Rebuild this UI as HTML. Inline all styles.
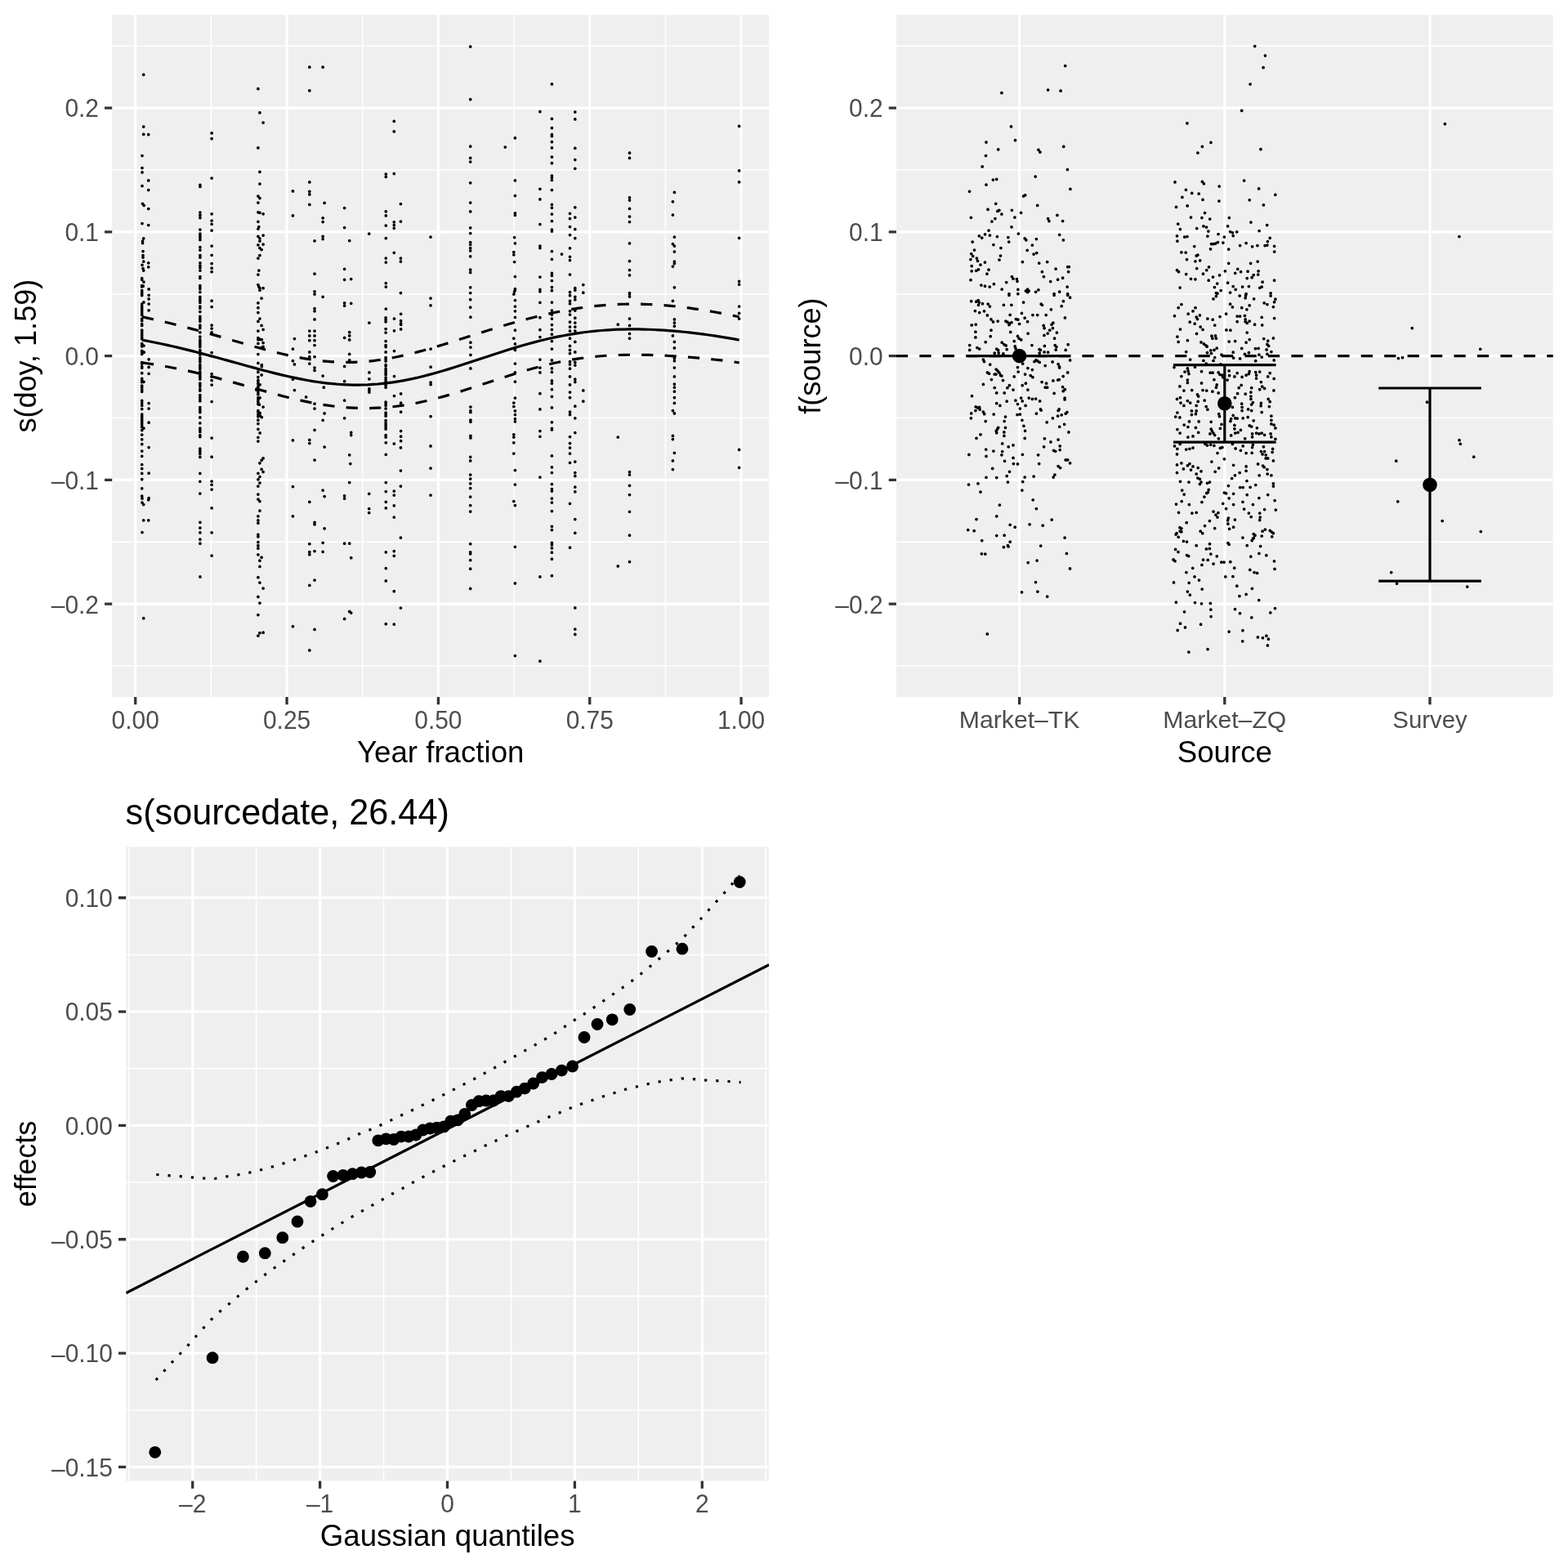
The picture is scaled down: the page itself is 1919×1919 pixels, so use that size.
<!DOCTYPE html>
<html lang="en"><head><meta charset="utf-8"><title>GAM partial effects</title>
<style>
html,body{margin:0;padding:0;background:#fff}
body{width:1919px;height:1919px;overflow:hidden}
svg{display:block;font-family:"Liberation Sans", Arial, Helvetica, sans-serif}
</style></head><body>
<svg width="1919" height="1919" viewBox="0 0 1919 1919">
<rect width="1919" height="1919" fill="#fff"/>
<clipPath id="c1"><rect x="137.2" y="18.2" width="804" height="834.9"/></clipPath>
<rect x="137.2" y="18.2" width="804" height="834.9" fill="#EFEFEF"/>
<path d="M137.2 56.2H941.2M137.2 207.96H941.2M137.2 359.72H941.2M137.2 511.48H941.2M137.2 663.24H941.2M137.2 815H941.2M258.38 18.2V853.1M443.72 18.2V853.1M629.08 18.2V853.1M814.42 18.2V853.1" stroke="#fff" stroke-width="1.55" fill="none"/>
<path d="M137.2 132.08H941.2M137.2 283.84H941.2M137.2 435.6H941.2M137.2 587.36H941.2M137.2 739.12H941.2M165.7 18.2V853.1M351.05 18.2V853.1M536.4 18.2V853.1M721.75 18.2V853.1M907.1 18.2V853.1" stroke="#fff" stroke-width="3.1" fill="none"/>
<path d="M175.69 91.4h.02M175.69 155.1h.02M175.69 164.4h.02M181.69 164.7h.02M173.99 190.6h.02M173.99 205.6h.02M173.99 210.9h.02M181.69 220.9h.02M173.99 227.6h.02M181.69 232.6h.02M174.49 249.3h.02M176.19 251.4h.02M181.69 255.6h.02M173.99 273.5h.02M181.69 275.5h.02M175.69 291.8h.02M174.49 295.1h.02M174.49 297.6h.02M174.99 307.6h.02M174.99 312.6h.02M174.99 315.1h.02M175.69 320.1h.02M181.69 321.8h.02M173.99 324.3h.02M181.69 326.8h.02M174.99 328.5h.02M175.69 331h.02M244.89 226.4h.02M244.89 228.4h.02M244.89 260.1h.02M244.89 263.4h.02M244.89 266.5h.02M244.89 281h.02M244.89 286h.02M244.89 288.5h.02M244.89 291h.02M244.89 293.5h.02M244.89 302.6h.02M244.89 306h.02M244.89 312.6h.02M244.89 315.1h.02M244.89 321.8h.02M244.89 325.1h.02M244.89 327.6h.02M244.89 331h.02M244.89 338.5h.02M259.09 162.9h.02M259.09 169.7h.02M259.09 218.1h.02M259.09 261.8h.02M259.09 270.1h.02M259.09 274.3h.02M259.09 282.1h.02M259.09 301h.02M259.09 312.3h.02M259.09 322.6h.02M259.09 328.2h.02M259.09 332.7h.02M315.89 108.7h.02M317.89 137.9h.02M322.09 150.1h.02M315.89 180.9h.02M317.89 210.4h.02M317.89 225.1h.02M315.89 240.1h.02M317.89 242.6h.02M315.89 248.1h.02M315.89 259.8h.02M317.89 260.4h.02M322.09 261.8h.02M315.89 271.3h.02M316.79 277.6h.02M315.89 280.1h.02M322.09 288h.02M315.89 289.3h.02M317.89 291.8h.02M317.89 295.1h.02M322.09 299h.02M315.89 299.8h.02M317.89 303.5h.02M320.09 305.6h.02M317.89 312.6h.02M315.89 316h.02M316.79 331h.02M315.89 336h.02M315.89 348.5h.02M316.79 351h.02M322.09 352.7h.02M317.89 355.2h.02M358.39 233.9h.02M358.39 263.9h.02M378.79 82.2h.02M378.79 110.9h.02M378.79 222.9h.02M378.79 234.3h.02M378.79 237.9h.02M378.79 250.4h.02M384.99 294.8h.02M384.99 335.2h.02M384.99 356.8h.02M395.09 82.2h.02M397.09 248.4h.02M395.09 266.8h.02M395.09 271.5h.02M395.09 289.3h.02M395.09 292.6h.02M421.59 254.6h.02M421.59 278.5h.02M421.59 329.3h.02M421.59 342.3h.02M427.69 294.6h.02M429.69 341.5h.02M451.69 286h.02M173.99 610.1h.02M173.99 615.1h.02M175.69 617.6h.02M175.69 636.8h.02M173.99 651.5h.02M181.69 611.8h.02M181.69 636.8h.02M244.89 639.3h.02M244.89 646h.02M244.89 651.8h.02M244.89 660.2h.02M244.89 665.2h.02M259.09 621.8h.02M259.09 651.8h.02M317.89 352.5h.02M320.09 365h.02M315.89 370.8h.02M315.89 376.7h.02M315.89 382.5h.02M317.89 390h.02M315.89 393.4h.02M320.09 398.4h.02M315.89 540.1h.02M322.09 560.9h.02M320.09 563.4h.02M317.89 566.8h.02M320.09 574.3h.02M322.09 577.6h.02M315.89 579.3h.02M317.89 583.5h.02M315.89 586.8h.02M317.89 591h.02M315.89 595.1h.02M315.89 605.1h.02M315.89 611h.02M317.89 613.5h.02M317.89 625.1h.02M315.89 631.8h.02M315.89 636.8h.02M315.89 640.2h.02M315.89 654.3h.02M315.89 656.8h.02M315.89 663.5h.02M315.89 667.7h.02M360.39 414.5h.02M358.39 427.2h.02M358.39 441.7h.02M360.39 445.9h.02M358.39 464.2h.02M360.39 477.6h.02M358.39 538.9h.02M358.39 595.6h.02M358.39 631.8h.02M378.79 405h.02M378.79 410.9h.02M378.79 416.7h.02M378.79 430.9h.02M378.79 436.7h.02M378.79 445h.02M374.59 485.9h.02M378.79 538.4h.02M378.79 542.6h.02M378.79 614.3h.02M378.79 665.7h.02M384.99 360h.02M384.99 377.5h.02M384.99 380.8h.02M384.99 390.9h.02M384.99 405h.02M384.99 410.9h.02M384.99 416.7h.02M384.99 422.5h.02M384.99 436.7h.02M384.99 450.1h.02M384.99 453.4h.02M384.99 494.2h.02M384.99 500.1h.02M384.99 526.3h.02M384.99 563.1h.02M384.99 639.3h.02M384.99 641.8h.02M395.09 363.3h.02M395.09 460.1h.02M396.29 474.2h.02M397.09 505.9h.02M395.09 514.3h.02M397.09 547.1h.02M395.09 600.1h.02M397.09 607.6h.02M397.09 646.8h.02M395.09 664.3h.02M421.59 370.8h.02M421.59 374.2h.02M421.59 413.4h.02M421.59 448.4h.02M421.59 466.7h.02M421.59 490.1h.02M421.59 511.8h.02M421.59 606.8h.02M421.59 610.1h.02M421.59 665.2h.02M429.69 371.3h.02M427.69 406.7h.02M427.69 410.9h.02M427.69 415.9h.02M427.69 433.4h.02M427.69 440.9h.02M429.69 529.3h.02M429.69 532.6h.02M427.69 556.8h.02M428.79 567.6h.02M427.69 590.6h.02M427.69 665.2h.02M451.69 604.3h.02M451.69 622.6h.02M451.69 627.6h.02M259.09 680h.02M244.89 705.9h.02M175.69 756.7h.02M315.89 671.2h.02M315.89 678.8h.02M320.09 682.2h.02M317.89 686.2h.02M317.89 693.4h.02M315.89 706.7h.02M317.89 713h.02M322.09 720h.02M315.89 730.4h.02M317.89 738h.02M315.89 752.5h.02M322.09 774.2h.02M317.89 774.7h.02M315.89 778.1h.02M378.79 675.5h.02M378.79 678.7h.02M384.99 674.5h.02M395.09 675.3h.02M429.69 682.7h.02M384.99 710h.02M378.79 716.4h.02M427.69 748.4h.02M429.69 750h.02M421.59 757.4h.02M358.39 766.7h.02M384.99 770.4h.02M378.79 795.9h.02M472.29 213.1h.02M472.29 216.4h.02M472.29 258.8h.02M472.29 263.9h.02M472.29 276h.02M472.29 291.5h.02M472.29 316h.02M472.29 321h.02M472.29 346.5h.02M472.29 351h.02M482.29 148.4h.02M482.29 160.9h.02M482.29 212.6h.02M482.29 271.8h.02M482.29 275.5h.02M482.29 279.3h.02M482.29 309.3h.02M490.39 249.6h.02M490.39 271h.02M490.39 316h.02M490.39 320.1h.02M490.39 358.5h.02M526.99 290.1h.02M575.69 57h.02M575.69 121.7h.02M575.69 179.2h.02M575.69 193.4h.02M575.69 198.1h.02M575.69 223.8h.02M575.69 248.1h.02M575.69 258.9h.02M575.69 278.8h.02M575.69 285.5h.02M575.69 296.5h.02M575.69 299.3h.02M575.69 303.5h.02M575.69 306.8h.02M575.69 313.8h.02M575.69 330.2h.02M575.69 333.5h.02M575.69 351.8h.02M575.69 358.5h.02M618.29 180.1h.02M630.39 168.9h.02M630.39 220.9h.02M630.39 239.6h.02M630.39 260.9h.02M630.39 263.4h.02M629.59 290.5h.02M630.39 297.8h.02M628.79 308.5h.02M628.79 311.8h.02M629.59 320.5h.02M630.39 338.5h.02M630.39 353.5h.02M629.59 356.8h.02M660.89 136.7h.02M660.89 231.3h.02M660.89 243.9h.02M660.89 274.6h.02M660.89 301h.02M660.89 303.5h.02M660.89 339h.02M660.89 354.3h.02M660.89 356.8h.02M675.39 102.9h.02M675.39 145.4h.02M675.39 156.7h.02M675.39 164.7h.02M675.39 166.7h.02M675.39 173.7h.02M675.39 180.9h.02M675.39 192.2h.02M675.39 199.7h.02M675.39 215.1h.02M675.39 217.6h.02M675.39 220.4h.02M675.39 232.6h.02M675.39 250.4h.02M675.39 254.3h.02M675.39 262.1h.02M675.39 270.6h.02M675.39 281h.02M675.39 283.1h.02M675.39 307.6h.02M675.39 317.3h.02M675.39 334.3h.02M675.39 337.3h.02M675.39 343.5h.02M675.39 351.5h.02M675.39 355.7h.02M687.49 311h.02M697.49 261.3h.02M697.49 267.6h.02M697.49 277.6h.02M697.49 287.5h.02M697.49 303.8h.02M697.49 314.3h.02M697.49 318.5h.02M697.49 336h.02M697.49 357.7h.02M703.79 137.1h.02M703.79 145.9h.02M703.79 181.4h.02M703.79 195.6h.02M703.79 206.3h.02M703.79 253.9h.02M703.79 266h.02M703.79 280.6h.02M703.79 291.5h.02M703.79 352.7h.02M703.79 355.2h.02M713.79 348.5h.02M713.79 358.2h.02M770.49 187.2h.02M770.49 193.4h.02M770.49 241.8h.02M770.49 245.1h.02M770.49 255.4h.02M770.49 265.1h.02M770.49 271.5h.02M770.49 297.8h.02M770.49 319.6h.02M770.49 330.5h.02M770.49 336.8h.02M770.49 358.5h.02M472.29 378h.02M472.29 541.8h.02M472.29 556.3h.02M472.29 590.5h.02M472.29 601.5h.02M472.29 614.3h.02M472.29 621.8h.02M482.29 543.1h.02M482.29 601h.02M482.29 606h.02M482.29 618.8h.02M482.29 633h.02M490.39 547.9h.02M490.39 576h.02M490.39 595.1h.02M490.39 658h.02M526.99 365h.02M526.99 373.8h.02M526.99 545.9h.02M526.99 573.1h.02M526.99 606h.02M575.69 366.7h.02M575.69 376.2h.02M575.69 559.3h.02M575.69 563.9h.02M575.69 581h.02M575.69 586h.02M575.69 591.8h.02M575.69 597.6h.02M575.69 608.1h.02M575.69 618.5h.02M575.69 626h.02M575.69 665.7h.02M630.39 355h.02M628.79 360h.02M630.39 367.5h.02M630.39 375h.02M630.39 380.8h.02M630.39 388.4h.02M630.39 404.2h.02M628.79 414.2h.02M630.39 420.9h.02M630.39 428.4h.02M630.39 445h.02M630.39 455.9h.02M630.39 467.2h.02M630.39 487.1h.02M628.79 493.1h.02M628.79 497.6h.02M630.39 502.9h.02M630.39 507.6h.02M630.39 512.6h.02M630.39 515.9h.02M628.79 531.8h.02M628.79 535.1h.02M628.79 541.8h.02M628.79 555.1h.02M630.39 575.5h.02M630.39 593.1h.02M628.79 613.5h.02M630.39 618.5h.02M630.39 669.3h.02M660.89 370.3h.02M660.89 388.7h.02M660.89 403.7h.02M660.89 412.5h.02M660.89 440h.02M660.89 450.1h.02M660.89 455.9h.02M660.89 481.7h.02M660.89 500.9h.02M660.89 527.6h.02M660.89 534.3h.02M660.89 584h.02M675.39 370h.02M675.39 380h.02M675.39 385h.02M675.39 390h.02M675.39 397.5h.02M675.39 403.4h.02M675.39 409.2h.02M675.39 417.5h.02M675.39 427h.02M675.39 440.9h.02M675.39 450.9h.02M675.39 455.4h.02M675.39 465.9h.02M675.39 469.2h.02M675.39 476.7h.02M675.39 485.4h.02M675.39 498.9h.02M675.39 516.8h.02M675.39 524.3h.02M675.39 525.9h.02M675.39 557.9h.02M675.39 571.8h.02M675.39 578.5h.02M675.39 592.6h.02M675.39 598.5h.02M675.39 601h.02M675.39 610.1h.02M675.39 615.1h.02M675.39 625.6h.02M675.39 644.3h.02M675.39 648.5h.02M675.39 664.3h.02M675.39 666.8h.02M697.49 361.7h.02M697.49 368.3h.02M697.49 371.7h.02M697.49 380.8h.02M697.49 385h.02M697.49 394.2h.02M697.49 400h.02M697.49 405h.02M697.49 414.2h.02M697.49 423.4h.02M697.49 428.4h.02M697.49 432.5h.02M697.49 442.5h.02M697.49 445.9h.02M697.49 451.2h.02M697.49 460.9h.02M697.49 470.9h.02M697.49 480.1h.02M697.49 486.7h.02M697.49 504.2h.02M697.49 507.6h.02M697.49 534.6h.02M697.49 542.6h.02M697.49 548.1h.02M697.49 555.1h.02M697.49 566.3h.02M697.49 616.3h.02M703.79 363.3h.02M703.79 366.7h.02M703.79 380h.02M703.79 389.2h.02M703.79 395h.02M703.79 400h.02M703.79 405h.02M703.79 418.4h.02M703.79 430.9h.02M703.79 443.4h.02M703.79 447.1h.02M703.79 464.2h.02M703.79 467.6h.02M703.79 497.2h.02M703.79 511.8h.02M703.79 529.6h.02M703.79 565.1h.02M703.79 578.5h.02M703.79 582.6h.02M703.79 596h.02M703.79 601.8h.02M703.79 635.5h.02M703.79 652.3h.02M713.79 477.9h.02M713.79 491.2h.02M756.29 397.2h.02M756.29 535.1h.02M770.49 360h.02M770.49 363h.02M770.49 390h.02M770.49 398.4h.02M770.49 408.4h.02M770.49 414.2h.02M770.49 577.6h.02M770.49 581h.02M770.49 594.3h.02M770.49 605.6h.02M770.49 626.3h.02M770.49 655.2h.02M472.29 675.8h.02M482.29 674.5h.02M482.29 680.3h.02M472.29 695.5h.02M472.29 710.9h.02M482.29 723.7h.02M490.39 744h.02M472.29 763.7h.02M482.29 764.1h.02M575.69 675.8h.02M575.69 677.8h.02M575.69 685.5h.02M575.69 696.2h.02M575.69 720.4h.02M630.39 713.9h.02M630.39 802.6h.02M660.89 705.9h.02M660.89 809.2h.02M675.39 670.8h.02M675.39 676.2h.02M675.39 684.2h.02M675.39 704.7h.02M697.49 670.2h.02M703.79 743.9h.02M703.79 770.1h.02M703.79 776.4h.02M756.29 692.9h.02M770.49 687.5h.02M825.39 235.4h.02M823.39 246.8h.02M823.39 263.1h.02M825.39 290.1h.02M823.39 298.5h.02M825.39 301h.02M825.39 308.1h.02M825.39 320.1h.02M825.39 322.6h.02M823.39 326h.02M825.39 351.8h.02M904.59 154.4h.02M904.59 208.9h.02M904.59 222.8h.02M904.59 291.3h.02M904.59 344.3h.02M904.59 348.2h.02M823.39 368.3h.02M825.39 390.9h.02M825.39 395h.02M825.39 399.2h.02M823.39 410.9h.02M825.39 418.4h.02M825.39 425.9h.02M825.39 438.4h.02M825.39 441.7h.02M825.39 450.1h.02M825.39 460.9h.02M825.39 470.1h.02M825.39 474.2h.02M825.39 479.2h.02M825.39 486.7h.02M825.39 493.4h.02M823.39 502.6h.02M825.39 505.9h.02M823.39 533.4h.02M823.39 537.6h.02M825.39 554.3h.02M823.39 563.9h.02M823.39 574.6h.02M904.59 375h.02M904.59 383.4h.02M904.59 390h.02M904.59 550.4h.02M904.59 572.3h.02M173.69 340.7h.02M173.69 342.2h.02M173.69 349.5h.02M173.69 350.9h.02M173.69 355.7h.02M173.69 357.9h.02M173.69 359.7h.02M173.69 361.5h.02M173.69 372.1h.02M173.69 375h.02M173.69 377.2h.02M173.69 379.4h.02M173.69 381.6h.02M173.69 383.8h.02M173.69 385.6h.02M173.69 390.3h.02M173.69 392.5h.02M173.69 396.5h.02M173.69 398.4h.02M173.69 404.2h.02M173.69 406h.02M173.69 408.6h.02M173.69 410.4h.02M173.69 413h.02M173.69 414.8h.02M173.69 420.6h.02M173.69 422.4h.02M173.69 423.9h.02M173.69 429.4h.02M173.69 431.2h.02M173.69 433.4h.02M173.69 443.6h.02M173.69 445.1h.02M173.69 448.7h.02M173.69 450.2h.02M173.69 456.7h.02M173.69 463.3h.02M173.69 465.5h.02M173.69 467.7h.02M173.69 472h.02M173.69 474.2h.02M173.69 477.2h.02M173.69 479.3h.02M175.89 345.1h.02M175.19 350.2h.02M175.89 369.9h.02M175.89 423.2h.02M176.29 431.2h.02M175.89 467.3h.02M182.09 353.9h.02M182.09 361.3h.02M182.09 365.9h.02M182.09 372.1h.02M182.09 379.8h.02M182.09 439.8h.02M182.09 449.4h.02M182.09 457.3h.02M244.79 340.4h.02M244.79 349.5h.02M244.79 351.7h.02M244.79 353.5h.02M244.79 357.5h.02M244.79 363.3h.02M244.79 365.2h.02M244.79 367h.02M244.79 368.8h.02M244.79 370.3h.02M244.79 375h.02M244.79 377.2h.02M244.79 381.6h.02M244.79 387.4h.02M244.79 389.6h.02M244.79 391.4h.02M244.79 393.3h.02M244.79 398h.02M244.79 399.8h.02M244.79 401.6h.02M244.79 406.8h.02M244.79 412.2h.02M244.79 415.9h.02M244.79 417.7h.02M244.79 419.5h.02M244.79 421.3h.02M244.79 423.2h.02M244.79 424.6h.02M244.79 428.6h.02M244.79 430.5h.02M244.79 432.3h.02M244.79 434.1h.02M244.79 437.8h.02M244.79 439.6h.02M244.79 441.4h.02M244.79 442.9h.02M244.79 446.5h.02M244.79 448.3h.02M244.79 450.2h.02M244.79 452h.02M244.79 455.3h.02M244.79 456.7h.02M244.79 458.6h.02M244.79 460.4h.02M244.79 462.2h.02M244.79 464h.02M244.79 469.1h.02M244.79 471h.02M244.79 472.8h.02M244.79 476.4h.02M244.79 478.2h.02M259.09 368.2h.02M259.09 375.5h.02M259.09 398h.02M259.09 402h.02M259.09 406.8h.02M259.09 431.6h.02M259.09 457.5h.02M259.09 461.1h.02M259.09 465.5h.02M259.09 471h.02M173.69 490.4h.02M173.69 493.3h.02M173.69 496.3h.02M173.69 500.6h.02M173.69 507.2h.02M173.69 509.4h.02M173.69 511.6h.02M173.69 513.8h.02M173.69 516h.02M173.69 518.2h.02M173.69 520.3h.02M173.69 522.5h.02M173.69 526.5h.02M173.69 532h.02M173.69 537.8h.02M173.69 543.7h.02M173.69 552.1h.02M173.69 558.3h.02M173.69 568.5h.02M173.69 573.6h.02M173.69 579.4h.02M173.69 586.7h.02M173.69 597.8h.02M173.69 607.2h.02M175.89 524.1h.02M182.09 493.6h.02M182.09 500.1h.02M182.09 517.2h.02M182.09 547.5h.02M182.09 579.2h.02M182.09 609.7h.02M244.79 483.5h.02M244.79 485.7h.02M244.79 488.2h.02M244.79 490.8h.02M244.79 498.5h.02M244.79 500.6h.02M244.79 502.8h.02M244.79 504.7h.02M244.79 510.9h.02M244.79 517.8h.02M244.79 524h.02M244.79 526.2h.02M244.79 528.4h.02M244.79 532.7h.02M244.79 534.6h.02M244.79 549.2h.02M244.79 551.3h.02M244.79 553.5h.02M244.79 555.4h.02M244.79 559.4h.02M244.79 579.4h.02M244.79 589.3h.02M244.79 604h.02M259.09 491.5h.02M259.09 536h.02M259.09 559.2h.02M259.09 589.1h.02M259.09 593.3h.02M259.09 599.1h.02M322.09 403.3h.02M315.89 405h.02M315.89 413.5h.02M318.09 415.3h.02M320.29 415.7h.02M315.89 415.7h.02M315.89 420.4h.02M322.09 419.6h.02M322.09 424.4h.02M319.89 425.5h.02M315.89 433.6h.02M315.89 444.4h.02M320.29 446.7h.02M320.29 448.5h.02M315.89 451.8h.02M315.89 455.4h.02M320.09 458.9h.02M315.89 461.6h.02M315.89 465.3h.02M315.89 467.5h.02M315.89 469.7h.02M318.09 470.8h.02M315.89 473h.02M315.89 475.1h.02M313.69 477h.02M315.89 478.4h.02M315.89 480.6h.02M315.89 482.8h.02M315.89 486.8h.02M318.09 486.8h.02M315.89 489.4h.02M315.89 491.9h.02M315.89 494.5h.02M317.39 495.2h.02M322.09 498.1h.02M315.89 502.5h.02M315.89 504.3h.02M318.09 505.4h.02M315.89 507.2h.02M318.09 508.7h.02M315.89 509.8h.02M320.29 510.7h.02M315.89 514.2h.02M315.89 518.6h.02M315.89 525.3h.02M318.09 529.9h.02M315.89 535.3h.02M472.09 388.8h.02M472.09 391.3h.02M472.09 393.8h.02M472.09 402.5h.02M472.09 407.1h.02M472.09 417.5h.02M472.09 422.5h.02M472.09 424.6h.02M472.09 430.9h.02M472.09 437.5h.02M472.09 439.6h.02M472.09 442.1h.02M472.09 446.7h.02M472.09 448h.02M472.09 451.7h.02M472.09 454.2h.02M472.09 456.7h.02M472.09 458.4h.02M472.09 462.1h.02M472.09 464.2h.02M472.09 466.7h.02M472.09 469.2h.02M472.09 471.7h.02M472.09 474.2h.02M472.09 492.1h.02M472.09 494.2h.02M472.09 496.3h.02M472.09 500.1h.02M472.09 505.1h.02M472.09 507.1h.02M472.09 509.2h.02M472.09 514.7h.02M472.09 517.6h.02M472.09 520.1h.02M472.09 522.6h.02M472.09 525.1h.02M472.09 532.6h.02M472.09 535.1h.02M451.89 395h.02M451.89 455.9h.02M451.89 463.8h.02M451.89 475.9h.02M451.89 478h.02M451.89 480.1h.02M482.49 390h.02M482.49 404.8h.02M482.49 429.6h.02M482.49 460.5h.02M482.49 484.5h.02M490.59 384.3h.02M490.59 392.5h.02M490.59 395.4h.02M490.59 397.3h.02M490.59 402.9h.02M490.59 481.9h.02M490.59 493.2h.02M490.59 504.2h.02M490.59 527.6h.02M490.59 534.2h.02M490.59 539.7h.02M527.09 427.1h.02M527.09 449.2h.02M527.09 468h.02M527.09 470.5h.02M527.09 509.7h.02M575.89 388.2h.02M575.89 419.2h.02M575.89 425h.02M575.89 434.4h.02M575.89 450.9h.02M575.89 498h.02M575.89 502.6h.02M575.89 504.6h.02M575.89 514.2h.02M575.89 516.3h.02M575.89 533.4h.02M575.89 535.9h.02" stroke="#000" stroke-width="3.75" stroke-linecap="round" fill="none" clip-path="url(#c1)"/>
<g fill="none" stroke="#000" stroke-width="3.2" stroke-linejoin="round">
<path d="M174 416.07L180.14 417.25L186.28 418.46L192.42 419.72L198.56 421.03L204.7 422.37L210.84 423.75L216.98 425.18L223.12 426.64L229.26 428.14L235.39 429.67L241.53 431.24L247.67 432.83L253.81 434.45L259.95 436.1L266.09 437.76L272.23 439.45L278.37 441.14L284.51 442.84L290.65 444.55L296.79 446.25L302.93 447.94L309.07 449.63L315.21 451.29L321.35 452.93L327.49 454.54L333.63 456.11L339.77 457.63L345.91 459.11L352.05 460.53L358.18 461.89L364.32 463.17L370.46 464.38L376.6 465.51L382.74 466.55L388.88 467.49L395.02 468.34L401.16 469.08L407.3 469.71L413.44 470.23L419.58 470.63L425.72 470.91L431.86 471.08L438 471.11L444.14 471.02L450.28 470.81L456.42 470.46L462.56 470L468.7 469.4L474.84 468.68L480.97 467.85L487.11 466.89L493.25 465.82L499.39 464.64L505.53 463.35L511.67 461.97L517.81 460.49L523.95 458.92L530.09 457.27L536.23 455.54L542.37 453.75L548.51 451.9L554.65 450L560.79 448.06L566.93 446.07L573.07 444.07L579.21 442.04L585.35 440.01L591.49 437.97L597.63 435.94L603.76 433.92L609.9 431.92L616.04 429.95L622.18 428.02L628.32 426.13L634.46 424.29L640.6 422.5L646.74 420.77L652.88 419.11L659.02 417.51L665.16 415.99L671.3 414.55L677.44 413.18L683.58 411.9L689.72 410.7L695.86 409.59L702 408.56L708.14 407.62L714.28 406.77L720.42 406.01L726.55 405.33L732.69 404.74L738.83 404.23L744.97 403.81L751.11 403.47L757.25 403.21L763.39 403.04L769.53 402.93L775.67 402.9L781.81 402.95L787.95 403.06L794.09 403.24L800.23 403.49L806.37 403.8L812.51 404.17L818.65 404.6L824.79 405.09L830.93 405.63L837.07 406.23L843.21 406.88L849.34 407.58L855.48 408.33L861.62 409.14L867.76 409.99L873.9 410.88L880.04 411.83L886.18 412.82L892.32 413.86L898.46 414.94L904.6 416.07"/>
<path d="M174 387.79L180.14 389.11L186.28 390.48L192.42 391.88L198.56 393.31L204.7 394.78L210.84 396.29L216.98 397.82L223.12 399.39L229.26 400.99L235.39 402.63L241.53 404.28L247.67 405.97L253.81 407.68L259.95 409.41L266.09 411.16L272.23 412.92L278.37 414.69L284.51 416.47L290.65 418.25L296.79 420.02L302.93 421.79L309.07 423.53L315.21 425.25L321.35 426.94L327.49 428.59L333.63 430.19L339.77 431.74L345.91 433.22L352.05 434.63L358.18 435.96L364.32 437.21L370.46 438.35L376.6 439.4L382.74 440.34L388.88 441.16L395.02 441.86L401.16 442.43L407.3 442.88L413.44 443.19L419.58 443.37L425.72 443.41L431.86 443.31L438 443.07L444.14 442.7L450.28 442.19L456.42 441.55L462.56 440.78L468.7 439.89L474.84 438.88L480.97 437.75L487.11 436.52L493.25 435.18L499.39 433.75L505.53 432.24L511.67 430.65L517.81 428.98L523.95 427.25L530.09 425.47L536.23 423.64L542.37 421.76L548.51 419.86L554.65 417.93L560.79 415.98L566.93 414.02L573.07 412.06L579.21 410.09L585.35 408.14L591.49 406.19L597.63 404.27L603.76 402.37L609.9 400.49L616.04 398.65L622.18 396.84L628.32 395.07L634.46 393.35L640.6 391.67L646.74 390.05L652.88 388.47L659.02 386.96L665.16 385.5L671.3 384.11L677.44 382.78L683.58 381.52L689.72 380.33L695.86 379.21L702 378.16L708.14 377.2L714.28 376.31L720.42 375.51L726.55 374.79L732.69 374.15L738.83 373.59L744.97 373.13L751.11 372.75L757.25 372.46L763.39 372.25L769.53 372.13L775.67 372.1L781.81 372.15L787.95 372.29L794.09 372.5L800.23 372.8L806.37 373.18L812.51 373.63L818.65 374.16L824.79 374.76L830.93 375.43L837.07 376.16L843.21 376.95L849.34 377.81L855.48 378.72L861.62 379.69L867.76 380.71L873.9 381.78L880.04 382.89L886.18 384.05L892.32 385.26L898.46 386.5L904.6 387.79" stroke-dasharray="14.22 14.22"/>
<path d="M174 443.82L180.14 444.72L186.28 445.66L192.42 446.65L198.56 447.7L204.7 448.8L210.84 449.95L216.98 451.16L223.12 452.42L229.26 453.73L235.39 455.1L241.53 456.52L247.67 457.99L253.81 459.51L259.95 461.07L266.09 462.67L272.23 464.31L278.37 465.98L284.51 467.67L290.65 469.39L296.79 471.12L302.93 472.86L309.07 474.61L315.21 476.34L321.35 478.07L327.49 479.78L333.63 481.46L339.77 483.11L345.91 484.71L352.05 486.27L358.18 487.77L364.32 489.21L370.46 490.58L376.6 491.87L382.74 493.09L388.88 494.21L395.02 495.24L401.16 496.17L407.3 497L413.44 497.72L419.58 498.32L425.72 498.82L431.86 499.19L438 499.44L444.14 499.57L450.28 499.58L456.42 499.46L462.56 499.21L468.7 498.84L474.84 498.34L480.97 497.72L487.11 496.98L493.25 496.12L499.39 495.14L505.53 494.05L511.67 492.86L517.81 491.55L523.95 490.15L530.09 488.65L536.23 487.07L542.37 485.4L548.51 483.66L554.65 481.85L560.79 479.98L566.93 478.07L573.07 476.1L579.21 474.11L585.35 472.09L591.49 470.05L597.63 468.01L603.76 465.96L609.9 463.93L616.04 461.92L622.18 459.93L628.32 457.98L634.46 456.08L640.6 454.22L646.74 452.43L652.88 450.7L659.02 449.04L665.16 447.46L671.3 445.96L677.44 444.54L683.58 443.22L689.72 441.98L695.86 440.84L702 439.8L708.14 438.84L714.28 437.99L720.42 437.23L726.55 436.56L732.69 435.98L738.83 435.49L744.97 435.08L751.11 434.76L757.25 434.51L763.39 434.34L769.53 434.24L775.67 434.2L781.81 434.23L787.95 434.31L794.09 434.45L800.23 434.64L806.37 434.88L812.51 435.16L818.65 435.48L824.79 435.84L830.93 436.24L837.07 436.67L843.21 437.14L849.34 437.65L855.48 438.18L861.62 438.76L867.76 439.36L873.9 440.01L880.04 440.69L886.18 441.41L892.32 442.17L898.46 442.97L904.6 443.82" stroke-dasharray="14.22 14.22"/>
</g>
<path d="M165.7 853.1v9.17M351.05 853.1v9.17M536.4 853.1v9.17M721.75 853.1v9.17M907.1 853.1v9.17M137.2 132.08h-9.17M137.2 283.84h-9.17M137.2 435.6h-9.17M137.2 587.36h-9.17M137.2 739.12h-9.17" stroke="#333333" stroke-width="3.3" fill="none"/>
<g font-size="29.33" fill="#4D4D4D">
<text transform="translate(165.7 891.5) scale(1.02 1.1)" text-anchor="middle">0.00</text><text transform="translate(351.05 891.5) scale(1.02 1.1)" text-anchor="middle">0.25</text><text transform="translate(536.4 891.5) scale(1.02 1.1)" text-anchor="middle">0.50</text><text transform="translate(721.75 891.5) scale(1.02 1.1)" text-anchor="middle">0.75</text><text transform="translate(907.1 891.5) scale(1.02 1.1)" text-anchor="middle">1.00</text>
<text transform="translate(121 143.48) scale(1.02 1.1)" text-anchor="end">0.2</text><text transform="translate(121 295.24) scale(1.02 1.1)" text-anchor="end">0.1</text><text transform="translate(121 447) scale(1.02 1.1)" text-anchor="end">0.0</text><text transform="translate(121 598.76) scale(1.02 1.1)" text-anchor="end"><tspan dy="0.65">–</tspan><tspan dy="-0.65">0.1</tspan></text><text transform="translate(121 750.52) scale(1.02 1.1)" text-anchor="end"><tspan dy="0.65">–</tspan><tspan dy="-0.65">0.2</tspan></text>
</g>
<g font-size="36.67" fill="#000" text-anchor="middle">
<text x="539.2" y="933.3">Year fraction</text>
<text transform="translate(44.4 435.65) rotate(-90) scale(0.985 1)">s(doy, 1.59)</text>
</g>
<clipPath id="c2"><rect x="1096.9" y="18.2" width="803.8" height="834.9"/></clipPath>
<rect x="1096.9" y="18.2" width="803.8" height="834.9" fill="#EFEFEF"/>
<path d="M1096.9 56.2H1900.7M1096.9 207.96H1900.7M1096.9 359.72H1900.7M1096.9 511.48H1900.7M1096.9 663.24H1900.7M1096.9 815H1900.7" stroke="#fff" stroke-width="1.55" fill="none"/>
<path d="M1096.9 132.08H1900.7M1096.9 283.84H1900.7M1096.9 435.6H1900.7M1096.9 587.36H1900.7M1096.9 739.12H1900.7M1247.61 18.2V853.1M1498.8 18.2V853.1M1749.99 18.2V853.1" stroke="#fff" stroke-width="3.1" fill="none"/>
<path d="M1303.69 80.5h.02M1282.59 110h.02M1298.09 111.2h.02M1225.89 113.7h.02M1237.49 154.9h.02M1242.49 171.7h.02M1206.99 174.1h.02M1221.69 182.9h.02M1301.69 179.4h.02M1270.89 183.4h.02M1272.89 186.2h.02M1206.49 190.6h.02M1202.19 203.9h.02M1306.39 207.6h.02M1267.19 216.1h.02M1215.39 220.1h.02M1219.69 219.4h.02M1206.99 226.1h.02M1186.49 234.3h.02M1309.89 231.4h.02M1252.59 240.1h.02M1254.69 238.8h.02M1218.69 249.3h.02M1269.69 251.4h.02M1208.99 256.4h.02M1220.89 258.4h.02M1222.89 257.3h.02M1225.89 262.1h.02M1238.39 257.3h.02M1249.59 260.4h.02M1188.39 266.3h.02M1217.89 267.5h.02M1213.89 271.1h.02M1241.89 266h.02M1293.89 263.4h.02M1282.59 267.6h.02M1283.89 270.5h.02M1300.59 270.5h.02M1237.99 277.8h.02M1209.99 282.1h.02M1205.49 286.8h.02M1198.39 288.8h.02M1201.69 291.1h.02M1211.39 288h.02M1220.39 289.6h.02M1233.89 290.5h.02M1234.69 296h.02M1246.39 286h.02M1254.19 291.8h.02M1255.89 293.8h.02M1268.39 292.6h.02M1296.69 287.3h.02M1301.39 293.8h.02M1190.19 296h.02M1215.89 299.6h.02M1224.89 303.5h.02M1263.39 300.1h.02M1192.49 306.1h.02M1257.19 306.3h.02M1188.69 310.5h.02M1190.69 313.5h.02M1187.89 317.6h.02M1195.39 316h.02M1196.49 319.3h.02M1224.49 313h.02M1222.99 318.1h.02M1265.09 311h.02M1268.69 309.6h.02M1205.39 321h.02M1199.99 324h.02M1189.19 325.5h.02M1251.39 320.6h.02M1271.69 322.1h.02M1281.69 320.6h.02M1306.69 326.5h.02M1308.39 326.5h.02M1189.19 331.8h.02M1194.69 331.3h.02M1197.49 329.8h.02M1209.99 330.2h.02M1207.89 335.2h.02M1292.09 329h.02M1275.39 332.7h.02M1307.59 332.7h.02M1277.39 338.7h.02M1238.39 338.5h.02M1239.99 341h.02M1244.39 341.5h.02M1244.99 344.3h.02M1187.99 342.7h.02M1300.59 340.2h.02M1294.59 342.2h.02M1285.69 344.5h.02M1231.69 345.5h.02M1216.39 347.7h.02M1200.89 349h.02M1205.49 350.2h.02M1211.19 351h.02M1226.19 354h.02M1245.89 354.3h.02M1255.39 356h.02M1257.59 354h.02M1259.19 356h.02M1257.59 357.7h.02M1267.59 357.3h.02M1270.89 354.8h.02M1296.69 357.2h.02M1306.19 351h.02M1245.89 359.7h.02M1234.99 359.7h.02M1290.09 359.7h.02M1306.69 359.7h.02M1234.99 361.3h.02M1290.09 361.3h.02M1306.69 361.3h.02M1309.59 364.2h.02M1188.69 368.7h.02M1194.69 369.2h.02M1197.19 367.5h.02M1198.39 370h.02M1197.49 373.3h.02M1202.49 371.7h.02M1209.19 372h.02M1211.39 375h.02M1228.39 373.3h.02M1237.89 373.3h.02M1252.59 370h.02M1274.19 372.2h.02M1275.39 373.3h.02M1301.39 368.7h.02M1299.19 374.7h.02M1286.39 378.8h.02M1193.39 380.5h.02M1198.69 382.5h.02M1204.49 380.8h.02M1208.39 385.9h.02M1212.99 390.9h.02M1215.49 393.9h.02M1221.19 393h.02M1236.19 385.4h.02M1250.39 383.4h.02M1263.89 385.5h.02M1269.69 385.5h.02M1280.19 385.5h.02M1303.39 388.9h.02M1243.39 390.5h.02M1245.89 391.2h.02M1254.19 389.2h.02M1257.59 393.7h.02M1230.89 393h.02M1232.89 394.2h.02M1235.39 395.9h.02M1237.89 394.7h.02M1234.99 397.5h.02M1247.59 396.4h.02M1189.19 397.9h.02M1194.19 397.2h.02M1288.89 395h.02M1287.09 397.2h.02M1277.19 398.4h.02M1278.09 401.7h.02M1212.99 404.2h.02M1193.89 406.2h.02M1236.69 406.4h.02M1258.09 408.2h.02M1284.69 404.2h.02M1288.39 401.7h.02M1293.39 407h.02M1282.19 408h.02M1277.89 410.4h.02M1193.89 412.9h.02M1212.19 411.7h.02M1245.49 411.4h.02M1247.09 414.2h.02M1249.69 415.9h.02M1290.59 414.2h.02M1241.19 417.5h.02M1206.19 418.7h.02M1226.19 419.2h.02M1228.89 421.7h.02M1231.19 422.9h.02M1262.89 422.5h.02M1278.39 423.4h.02M1291.19 422.5h.02M1292.89 424.5h.02M1307.19 421.7h.02M1186.69 422.5h.02M1195.89 425.5h.02M1198.69 427h.02M1186.69 428.4h.02M1219.69 427h.02M1221.69 428.7h.02M1232.19 427.5h.02M1242.19 423.9h.02M1242.99 426.7h.02M1272.09 427.5h.02M1273.39 428.4h.02M1292.19 428h.02M1304.19 428.4h.02M1278.09 430.9h.02M1282.59 431.2h.02M1217.19 432.2h.02M1222.19 432h.02M1227.89 432.9h.02M1272.19 432.2h.02M1203.39 440h.02M1204.49 442.5h.02M1211.69 446.2h.02M1251.69 445h.02M1245.49 449.6h.02M1265.89 442.5h.02M1267.89 440.9h.02M1269.59 441.7h.02M1272.19 443.4h.02M1279.19 447.6h.02M1288.09 442.9h.02M1295.09 445.5h.02M1296.39 448.4h.02M1296.69 450.1h.02M1309.59 440.9h.02M1257.89 450.6h.02M1219.19 452.1h.02M1221.19 454.2h.02M1222.89 456.2h.02M1208.39 455.9h.02M1210.49 457.2h.02M1217.19 458.1h.02M1218.89 458.1h.02M1224.49 459.2h.02M1225.89 460.1h.02M1246.19 455.1h.02M1254.59 458.1h.02M1263.39 452.6h.02M1261.19 459.6h.02M1263.89 461.7h.02M1241.19 460.9h.02M1213.39 464.6h.02M1227.49 465.6h.02M1306.69 455.9h.02M1301.19 460.6h.02M1294.69 465.1h.02M1296.19 464.7h.02M1288.89 465.9h.02M1203.39 470.4h.02M1275.09 467.6h.02M1280.59 469.2h.02M1279.19 474.2h.02M1281.69 474.2h.02M1235.39 471.7h.02M1232.89 474.7h.02M1217.19 474.6h.02M1239.99 477.1h.02M1251.19 471.7h.02M1255.39 469.2h.02M1257.89 477.1h.02M1300.59 473.7h.02M1303.39 476.7h.02M1301.19 478.7h.02M1219.69 480.9h.02M1229.19 480.9h.02M1290.09 481.4h.02M1189.49 484.7h.02M1249.59 487.1h.02M1242.89 490.1h.02M1251.19 490.9h.02M1259.19 487.1h.02M1263.39 488.4h.02M1267.59 488.1h.02M1272.59 490.9h.02M1232.19 491.2h.02M1303.09 487.2h.02M1303.09 488.9h.02M1219.69 493.7h.02M1223.89 496.4h.02M1245.49 494.6h.02M1255.09 496.4h.02M1248.39 500.1h.02M1194.19 497.9h.02M1196.69 499.2h.02M1198.69 498.4h.02M1199.19 501.2h.02M1193.89 502.6h.02M1203.39 504.2h.02M1273.39 500.9h.02M1274.19 502.1h.02M1296.19 500.9h.02M1295.09 502.6h.02M1188.69 505.9h.02M1204.69 506.7h.02M1216.19 507.1h.02M1244.99 507.6h.02M1248.39 507.1h.02M1268.39 506.2h.02M1305.89 504.6h.02M1304.19 506.2h.02M1299.19 507.9h.02M1294.59 509.2h.02M1230.49 510.1h.02M1188.39 511.8h.02M1288.39 511.8h.02M1206.19 515.6h.02M1229.19 515.6h.02M1250.89 514.3h.02M1281.19 516.8h.02M1302.59 519.3h.02M1296.69 522.3h.02M1252.89 521.3h.02M1230.49 523.4h.02M1221.69 523.4h.02M1220.39 525.4h.02M1219.19 527.6h.02M1219.69 529.8h.02M1228.89 528.9h.02M1254.59 527.3h.02M1307.89 528.9h.02M1199.99 531.8h.02M1194.99 536.3h.02M1228.89 533.4h.02M1254.19 536.4h.02M1278.39 536.8h.02M1295.09 538.1h.02M1285.89 540.9h.02M1226.69 542.9h.02M1239.99 544.8h.02M1234.19 546.8h.02M1277.59 546.8h.02M1297.19 545.9h.02M1206.69 550.1h.02M1297.19 550.6h.02M1289.59 551.4h.02M1291.69 552.3h.02M1215.89 552.1h.02M1226.69 552.6h.02M1225.89 556.8h.02M1185.89 556.4h.02M1251.39 556.3h.02M1270.59 556.8h.02M1206.99 558.4h.02M1239.99 560.4h.02M1229.49 564.3h.02M1304.19 562.9h.02M1306.69 562.9h.02M1309.59 566.8h.02M1240.39 567.6h.02M1245.49 567.9h.02M1271.69 567.6h.02M1295.09 570.6h.02M1297.59 572.6h.02M1214.69 573.4h.02M1235.49 577.3h.02M1232.19 582.6h.02M1290.89 581h.02M1289.19 584h.02M1206.99 584.3h.02M1219.69 584.6h.02M1254.19 584h.02M1265.09 583.1h.02M1233.39 590.1h.02M1251.69 589.6h.02M1185.49 593h.02M1196.99 591.8h.02M1250.89 600.1h.02M1199.99 602.1h.02M1264.19 611.8h.02M1223.39 618.1h.02M1268.39 622.6h.02M1219.69 631.8h.02M1194.99 635.6h.02M1287.19 636h.02M1236.19 642.3h.02M1242.19 645.2h.02M1260.09 641.8h.02M1276.19 643.2h.02M1184.69 648.5h.02M1192.19 649.7h.02M1219.69 655.5h.02M1229.19 655.2h.02M1303.09 658h.02M1201.69 661.5h.02M1236.19 663.2h.02M1273.69 668h.02M1233.39 667.7h.02M1228.39 669.7h.02M1234.09 668.9h.02M1201.39 677.8h.02M1205.79 678.1h.02M1305.39 677.4h.02M1269.09 686.1h.02M1258.19 688.6h.02M1309.49 695.9h.02M1267.49 712.6h.02M1250.49 724.8h.02M1269.89 724.1h.02M1281.69 730h.02M1208.29 775.9h.02M1535.69 56.5h.02M1548.39 68h.02M1546.09 82.7h.02M1530.09 103h.02M1519.69 135.4h.02M1452.89 150.9h.02M1481.89 174.4h.02M1471.39 179.4h.02M1465.89 187.1h.02M1542.89 182.7h.02M1437.99 222.9h.02M1471.39 222.3h.02M1473.39 224.8h.02M1492.19 228.1h.02M1522.59 221.1h.02M1540.59 230.9h.02M1451.39 232.3h.02M1458.69 236.4h.02M1467.19 237.1h.02M1560.79 238.4h.02M1446.89 241.4h.02M1471.99 244.4h.02M1491.89 246.1h.02M1529.19 244.8h.02M1546.39 250.9h.02M1439.49 253.4h.02M1453.19 251.9h.02M1474.49 260.6h.02M1457.49 266h.02M1470.89 266.5h.02M1480.69 268.1h.02M1504.39 266.5h.02M1530.89 272h.02M1550.69 275.5h.02M1441.69 274h.02M1464.69 279.5h.02M1472.89 276.8h.02M1476.49 278h.02M1502.59 276.8h.02M1444.39 280.6h.02M1478.89 283.1h.02M1505.59 283.5h.02M1508.39 284.8h.02M1513.69 283.8h.02M1541.09 282.5h.02M1440.49 288.8h.02M1449.69 290.1h.02M1452.99 289.5h.02M1477.89 289h.02M1490.99 286.5h.02M1498.39 290.1h.02M1509.19 288.5h.02M1554.19 291.3h.02M1440.89 295.1h.02M1482.49 298.5h.02M1484.99 298.5h.02M1487.49 298.1h.02M1490.39 296.5h.02M1496.89 297.1h.02M1525.09 297.6h.02M1551.39 295.6h.02M1461.69 301.5h.02M1517.59 300.6h.02M1532.59 301.8h.02M1538.89 300.5h.02M1548.09 300.5h.02M1550.89 300.1h.02M1559.59 301.3h.02M1481.49 304.8h.02M1503.69 305.1h.02M1559.69 308h.02M1445.89 308.8h.02M1451.19 309h.02M1464.19 313h.02M1465.89 312.1h.02M1452.49 317.5h.02M1462.89 319.8h.02M1468.69 318.8h.02M1539.19 320.1h.02M1530.59 322.3h.02M1503.69 322.3h.02M1479.49 326.8h.02M1464.69 328.5h.02M1476.69 330.7h.02M1514.69 329.3h.02M1440.49 330.7h.02M1442.49 332.7h.02M1499.39 331.8h.02M1518.59 332.7h.02M1527.09 332.2h.02M1540.09 331.8h.02M1451.69 335.5h.02M1472.49 335.2h.02M1511.69 334.3h.02M1539.69 336h.02M1534.19 336.5h.02M1492.49 336.8h.02M1484.49 339h.02M1532.09 339.7h.02M1526.19 340.5h.02M1457.49 341.3h.02M1462.89 341.8h.02M1479.19 343.2h.02M1559.59 343.2h.02M1545.09 345.2h.02M1489.69 347h.02M1502.59 346.2h.02M1509.19 350.5h.02M1520.59 351h.02M1528.39 350.5h.02M1486.39 351.5h.02M1444.19 352h.02M1544.19 351h.02M1541.69 352.3h.02M1512.19 354.3h.02M1494.19 355.5h.02M1505.59 358h.02M1488.39 358.5h.02M1555.09 358.8h.02M1525.09 359.7h.02M1489.99 359.2h.02M1488.39 362.5h.02M1484.99 365.8h.02M1517.19 362h.02M1524.59 361.7h.02M1524.19 364.7h.02M1534.59 365.8h.02M1555.09 362h.02M1560.89 366.2h.02M1445.89 372.5h.02M1442.19 376.7h.02M1505.59 372.2h.02M1508.39 375.8h.02M1519.69 376.7h.02M1529.19 373.8h.02M1525.89 378.8h.02M1547.19 370.8h.02M1550.89 372.5h.02M1559.59 369.7h.02M1558.39 375.5h.02M1462.99 376.7h.02M1459.99 380.8h.02M1454.19 384.2h.02M1500.59 384.2h.02M1437.49 386.7h.02M1464.19 388h.02M1468.39 385.9h.02M1465.49 390.5h.02M1477.89 390h.02M1484.19 391.2h.02M1492.99 387.5h.02M1514.19 387h.02M1517.59 387h.02M1523.39 386.4h.02M1524.19 390.9h.02M1514.19 393.7h.02M1524.19 393.7h.02M1529.19 393h.02M1526.19 395.4h.02M1544.19 388.4h.02M1559.59 389.5h.02M1456.19 394.2h.02M1462.19 396.2h.02M1486.69 398h.02M1535.59 397.2h.02M1544.69 397.9h.02M1469.19 400h.02M1444.49 403h.02M1471.99 403.4h.02M1500.89 403.9h.02M1505.89 404.2h.02M1464.49 408.4h.02M1526.19 407h.02M1440.89 412h.02M1482.89 411.2h.02M1487.49 410.9h.02M1483.89 414.2h.02M1488.39 414.2h.02M1546.69 414.5h.02M1558.39 413.9h.02M1453.39 416.7h.02M1442.19 418.4h.02M1504.19 418h.02M1511.69 417.5h.02M1529.19 415.5h.02M1525.09 419.2h.02M1551.69 417.2h.02M1469.99 418.9h.02M1473.39 420.9h.02M1550.89 421.4h.02M1552.59 423.4h.02M1475.89 422.9h.02M1477.19 424.2h.02M1489.19 426.2h.02M1485.89 428.4h.02M1481.69 428.9h.02M1519.69 426.4h.02M1536.39 426.7h.02M1540.09 426.4h.02M1550.09 427.9h.02M1451.69 430.5h.02M1477.49 431.7h.02M1509.19 431.2h.02M1528.39 431.7h.02M1555.89 430.5h.02M1482.49 432.5h.02M1494.99 434.2h.02M1523.39 433.4h.02M1540.89 434.2h.02M1550.89 433.4h.02M1456.69 440h.02M1472.89 441.4h.02M1486.69 437.5h.02M1484.99 441.4h.02M1517.59 438.9h.02M1509.59 438h.02M1544.19 437h.02M1536.69 441.7h.02M1559.19 440.9h.02M1436.99 449.6h.02M1462.49 449.2h.02M1453.39 450.9h.02M1476.19 445h.02M1493.89 445.9h.02M1449.99 455.1h.02M1454.19 454.2h.02M1454.99 457.6h.02M1445.89 460.6h.02M1453.39 465.1h.02M1470.49 454.7h.02M1481.19 456.2h.02M1484.19 456.2h.02M1491.19 455.9h.02M1492.89 458.4h.02M1495.89 459.2h.02M1496.69 461.7h.02M1485.89 464.7h.02M1504.19 453.9h.02M1504.59 459.7h.02M1514.19 456.7h.02M1510.89 460.9h.02M1520.09 461.4h.02M1525.09 459.2h.02M1529.19 454.7h.02M1528.39 457.6h.02M1536.69 455.6h.02M1541.69 455.1h.02M1537.59 459.2h.02M1537.59 463.1h.02M1554.19 456.7h.02M1551.69 460.9h.02M1559.19 463.4h.02M1502.09 465.1h.02M1453.39 468.4h.02M1470.49 468.9h.02M1443.89 472.9h.02M1489.19 470.9h.02M1488.39 474.2h.02M1519.19 471.4h.02M1516.19 474.7h.02M1531.69 474.7h.02M1543.39 467.6h.02M1544.69 473.1h.02M1541.69 476.7h.02M1547.59 475.4h.02M1558.89 477.9h.02M1448.89 478.1h.02M1458.69 477.6h.02M1471.99 477.6h.02M1476.69 478.1h.02M1483.89 479.2h.02M1491.19 480.9h.02M1514.59 481.7h.02M1524.19 482.2h.02M1530.89 480.1h.02M1465.49 482.9h.02M1444.49 486.7h.02M1440.49 488.4h.02M1466.69 485.1h.02M1453.39 490.6h.02M1474.19 490.1h.02M1466.19 491.4h.02M1444.99 493.1h.02M1456.69 493.1h.02M1448.89 496.4h.02M1464.19 496.4h.02M1476.19 497.6h.02M1511.39 486.7h.02M1530.89 485.1h.02M1530.89 488.4h.02M1533.39 492.6h.02M1531.69 495.1h.02M1519.69 494.2h.02M1520.09 498.4h.02M1543.39 493.4h.02M1543.09 496.7h.02M1552.19 488.4h.02M1554.19 491.7h.02M1553.39 497.6h.02M1508.39 498.4h.02M1477.89 501.2h.02M1458.39 502.9h.02M1464.19 502.9h.02M1440.89 505.1h.02M1463.39 506.7h.02M1458.39 507.6h.02M1438.69 510.1h.02M1443.89 510.9h.02M1491.69 506.7h.02M1492.49 509.7h.02M1509.19 508.4h.02M1520.09 502.6h.02M1527.59 500.9h.02M1531.69 502.6h.02M1544.19 504.6h.02M1555.89 509.2h.02M1506.69 512.6h.02M1505.89 515.6h.02M1511.69 511.8h.02M1514.19 512.1h.02M1521.19 511.8h.02M1527.19 510.6h.02M1534.19 514.8h.02M1555.89 514.3h.02M1455.49 515.9h.02M1467.19 515.9h.02M1482.19 516.3h.02M1449.19 520.1h.02M1453.89 522.6h.02M1463.39 523.4h.02M1440.89 525.6h.02M1444.19 530.1h.02M1466.69 529.3h.02M1453.89 535.1h.02M1459.99 533.9h.02M1482.19 525.1h.02M1483.39 527.6h.02M1484.99 530.1h.02M1480.89 530.9h.02M1486.69 532.6h.02M1494.99 519.3h.02M1493.39 524.3h.02M1510.89 520.4h.02M1510.89 524.8h.02M1518.39 526.3h.02M1515.09 529.3h.02M1511.69 530.1h.02M1506.69 532.9h.02M1529.19 520.9h.02M1531.69 522.1h.02M1538.39 523.8h.02M1555.89 518.9h.02M1559.19 520.1h.02M1560.89 523.9h.02M1532.59 530.9h.02M1537.59 530.1h.02M1540.89 530.9h.02M1544.19 530.1h.02M1547.59 532.3h.02M1555.09 530.9h.02M1532.59 534.8h.02M1555.89 534.8h.02M1491.39 536.8h.02M1523.69 536.8h.02M1560.89 537.3h.02M1437.49 545.9h.02M1444.19 543.4h.02M1440.89 549.3h.02M1451.69 550.1h.02M1455.89 549.3h.02M1459.99 548.1h.02M1474.99 543.4h.02M1477.49 545.1h.02M1481.69 544.3h.02M1485.89 545.4h.02M1493.39 548.4h.02M1495.89 547.6h.02M1508.39 543.4h.02M1512.09 548.9h.02M1521.19 545.9h.02M1533.39 544.3h.02M1532.59 547.6h.02M1546.39 546.8h.02M1557.59 549.3h.02M1440.49 555.9h.02M1489.99 554.6h.02M1518.39 551.3h.02M1525.09 554.6h.02M1532.19 554.3h.02M1543.39 552.6h.02M1547.59 552.6h.02M1545.09 555.9h.02M1549.19 556.8h.02M1557.19 553.4h.02M1549.19 560.9h.02M1551.69 560.9h.02M1498.39 561.8h.02M1558.39 563.9h.02M1482.89 565.1h.02M1445.89 566.8h.02M1440.49 568.9h.02M1455.89 567.6h.02M1453.39 569.8h.02M1459.99 570.9h.02M1448.39 573.9h.02M1457.49 575.1h.02M1466.19 572.6h.02M1469.99 576.8h.02M1440.49 578.5h.02M1464.19 580.1h.02M1491.69 572.9h.02M1487.19 577.3h.02M1509.59 569.3h.02M1525.09 570.9h.02M1525.09 576.3h.02M1539.59 567.9h.02M1545.59 570.1h.02M1547.19 571.8h.02M1550.89 574.6h.02M1551.19 580.1h.02M1555.89 581.8h.02M1541.19 581.8h.02M1517.19 578.5h.02M1511.39 581.8h.02M1465.89 585.1h.02M1468.39 586.3h.02M1507.59 585.5h.02M1444.49 589.3h.02M1454.99 590.1h.02M1469.99 590.1h.02M1468.39 592.6h.02M1477.49 591.3h.02M1480.49 590.1h.02M1525.89 588.5h.02M1558.39 591.8h.02M1558.39 595.1h.02M1503.39 594.6h.02M1517.59 596.5h.02M1521.19 596.5h.02M1530.09 596.3h.02M1536.69 593.5h.02M1479.19 599.3h.02M1446.69 600.1h.02M1476.69 603.5h.02M1478.39 602.6h.02M1449.19 605.1h.02M1473.89 608.1h.02M1498.39 603h.02M1500.59 603.8h.02M1509.59 604.3h.02M1526.19 605.5h.02M1551.69 605.5h.02M1504.19 609.8h.02M1540.89 609.6h.02M1446.19 613.5h.02M1560.09 612.6h.02M1470.89 614.6h.02M1520.89 614.3h.02M1496.69 616.3h.02M1439.49 617.1h.02M1455.39 617.6h.02M1509.59 617.6h.02M1533.39 617.6h.02M1500.59 622.6h.02M1522.59 623h.02M1547.59 623.5h.02M1561.29 624h.02M1442.49 627.3h.02M1458.89 628h.02M1464.19 627.3h.02M1484.99 626h.02M1490.89 627.6h.02M1487.89 630.1h.02M1528.39 628h.02M1541.69 628h.02M1489.99 633h.02M1531.19 632.6h.02M1542.19 633h.02M1503.39 634h.02M1502.59 636.8h.02M1511.39 636h.02M1541.69 636.5h.02M1480.39 637.6h.02M1452.19 639.7h.02M1502.89 641h.02M1474.49 643.5h.02M1509.59 645.2h.02M1443.89 645.7h.02M1445.89 646.8h.02M1486.69 646.5h.02M1504.59 647.3h.02M1444.19 650.2h.02M1469.19 650.2h.02M1548.39 648h.02M1545.09 650.2h.02M1554.19 649.3h.02M1439.99 652.7h.02M1471.69 652.7h.02M1534.19 653.5h.02M1558.39 652.7h.02M1544.19 656h.02M1556.69 656.8h.02M1442.19 657.3h.02M1520.89 658h.02M1533.39 659.3h.02M1532.19 661.5h.02M1448.39 662.3h.02M1452.49 663h.02M1480.49 665.7h.02M1464.19 667.7h.02M1502.89 664.7h.02M1504.19 666.3h.02M1526.19 667.7h.02M1542.59 668.5h.02M1445.89 650.8h.02M1439.09 654h.02M1535.99 655.2h.02M1534.39 658.3h.02M1556.29 651h.02M1480.29 671.4h.02M1476.39 671.9h.02M1438.59 672.4h.02M1441.99 675.5h.02M1481.79 678.1h.02M1540.89 677.4h.02M1549.79 679.7h.02M1452.59 679.5h.02M1454.69 680.5h.02M1489.29 680.8h.02M1530.79 681.2h.02M1435.99 684.9h.02M1437.99 686.7h.02M1472.59 685.2h.02M1478.19 685.4h.02M1559.49 686.8h.02M1494.79 688h.02M1497.99 688h.02M1505.79 687.7h.02M1485.09 690.1h.02M1470.89 691.4h.02M1459.69 695.3h.02M1510.69 695.2h.02M1529.79 697.4h.02M1534.99 700.5h.02M1538.59 701.4h.02M1559.99 696.4h.02M1451.89 700.5h.02M1461.99 705.8h.02M1499.79 705.8h.02M1508.89 705.5h.02M1467.49 710.1h.02M1436.49 712.9h.02M1455.19 713.3h.02M1513.79 717.2h.02M1532.39 720.3h.02M1471.19 721.1h.02M1453.39 724h.02M1456.29 728.2h.02M1525.09 727.4h.02M1516.89 729.5h.02M1540.69 734.5h.02M1439.39 737.2h.02M1462.49 737.5h.02M1470.49 738.8h.02M1481.29 738.4h.02M1481.79 746.1h.02M1511.49 745.5h.02M1560.49 744.5h.02M1449.49 748.8h.02M1517.49 750.7h.02M1554.79 749.8h.02M1482.09 754.5h.02M1531.79 755.8h.02M1444.49 763.2h.02M1469.59 764.2h.02M1450.49 767.9h.02M1441.19 771.4h.02M1520.89 771.7h.02M1504.19 773h.02M1539.39 779.9h.02M1545.39 780.7h.02M1549.89 778.2h.02M1552.39 782.2h.02M1520.69 784.8h.02M1551.39 789.9h.02M1477.99 794.6h.02M1454.89 798h.02M1768.39 151.7h.02M1785.89 289.6h.02M1728.19 401.5h.02M1811.69 427.3h.02M1711.39 438.5h.02M1716.39 437.7h.02M1746.49 492.2h.02M1785.99 538.7h.02M1787.29 543.3h.02M1803.69 559.2h.02M1708.69 564.2h.02M1710.69 613.8h.02M1765.19 637.5h.02M1812.29 650.5h.02M1702.69 700.5h.02M1709.49 714.2h.02M1795.69 718h.02" stroke="#000" stroke-width="3.75" stroke-linecap="round" fill="none" clip-path="url(#c2)"/>
<g fill="none" stroke="#000" stroke-width="3.2">
<path d="M1096.9 435.6H1900.7" stroke-dasharray="14.22 14.22"/>
<path d="M1184.82 435.6H1310.41M1184.82 435.6H1310.41M1247.61 435.6V435.6M1436 446.7H1561.6M1436 541.2H1561.6M1498.8 446.7V541.2M1687.19 475H1812.78M1687.19 711.2H1812.78M1749.99 475V711.2"/>
</g>
<g fill="#000"><circle cx="1247.61" cy="435.6" r="8.8"/><circle cx="1498.8" cy="493.8" r="8.8"/><circle cx="1749.99" cy="593.3" r="8.8"/></g>
<path d="M1247.61 853.1v9.17M1498.8 853.1v9.17M1749.99 853.1v9.17M1096.9 132.08h-9.17M1096.9 283.84h-9.17M1096.9 435.6h-9.17M1096.9 587.36h-9.17M1096.9 739.12h-9.17" stroke="#333333" stroke-width="3.3" fill="none"/>
<g font-size="29.33" fill="#4D4D4D">
<text transform="translate(1247.61 891.2) scale(1.03 1.0)" text-anchor="middle">Market–TK</text><text transform="translate(1498.8 891.2) scale(1.03 1.0)" text-anchor="middle">Market–ZQ</text><text transform="translate(1749.99 891.2) scale(1.0 1.0)" text-anchor="middle">Survey</text>
<text transform="translate(1080.6 143.48) scale(1.02 1.1)" text-anchor="end">0.2</text><text transform="translate(1080.6 295.24) scale(1.02 1.1)" text-anchor="end">0.1</text><text transform="translate(1080.6 447) scale(1.02 1.1)" text-anchor="end">0.0</text><text transform="translate(1080.6 598.76) scale(1.02 1.1)" text-anchor="end"><tspan dy="0.65">–</tspan><tspan dy="-0.65">0.1</tspan></text><text transform="translate(1080.6 750.52) scale(1.02 1.1)" text-anchor="end"><tspan dy="0.65">–</tspan><tspan dy="-0.65">0.2</tspan></text>
</g>
<g font-size="36.67" fill="#000" text-anchor="middle">
<text x="1498.8" y="933.3">Source</text>
<text transform="translate(1003.8 435.65) rotate(-90) scale(0.985 1)">f(source)</text>
</g>
<clipPath id="c3"><rect x="154.2" y="1036.4" width="787" height="776.1"/></clipPath>
<rect x="154.2" y="1036.4" width="787" height="776.1" fill="#EFEFEF"/>
<path d="M154.2 1168.41H941.2M154.2 1307.74H941.2M154.2 1447.07H941.2M154.2 1586.39H941.2M154.2 1725.73H941.2M157.75 1036.4V1812.5M313.65 1036.4V1812.5M469.55 1036.4V1812.5M625.45 1036.4V1812.5M781.35 1036.4V1812.5M937.25 1036.4V1812.5" stroke="#fff" stroke-width="1.55" fill="none"/>
<path d="M154.2 1098.74H941.2M154.2 1238.07H941.2M154.2 1377.4H941.2M154.2 1516.73H941.2M154.2 1656.06H941.2M154.2 1795.39H941.2M235.7 1036.4V1812.5M391.6 1036.4V1812.5M547.5 1036.4V1812.5M703.4 1036.4V1812.5M859.3 1036.4V1812.5" stroke="#fff" stroke-width="3.1" fill="none"/>
<g fill="none" stroke="#000" stroke-width="3.2" clip-path="url(#c3)">
<path d="M154.2 1582.5L941.2 1180.7"/>
<path d="M191.3 1437.5L205.8 1438.7L220 1439.7L234.2 1440.8L248.3 1442L262.5 1442.5L276.7 1440L290.5 1438L304.7 1435.3L318.3 1432L332 1428.3L345.8 1424.2L359.2 1419.7L372.8 1415L386.2 1410.2L399.2 1405.2L412.5 1400L425.8 1394.2L438.3 1388.3L451.5 1383.2L464.8 1377.5L477.7 1371.4L490.5 1365.3L503.4 1359.2L516.2 1352.9L529 1346.8L541.8 1340.4L554.5 1333.8L567 1327.4L579.6 1320.9L592 1314.1L604.6 1307.1L617.1 1300L629.4 1293.1L641.9 1286.1L654.1 1279.3L666.6 1272.1L678.8 1264.7L690.5 1256.8L702.5 1248.8L714.5 1241.3L726.4 1233.3L738 1225.3L749.7 1217.2L761.2 1209.2L772.9 1200.8L784.2 1192L795.4 1183L806.2 1173.8L817.1 1164.5L827.6 1155.3L837.9 1145.8L847.6 1135.3L857.3 1125L866.8 1114.2L876.5 1103.7L886 1093.3L895.5 1082.5L905.3 1071.5" stroke-dasharray="3.2 11.02"/>
<path d="M190.8 1689L200.5 1678.3L210 1667.8L219.7 1657.5L229.5 1647.2L239.2 1636.3L248.5 1625.8L258 1615.5L268.3 1605.8L279.2 1596.7L290 1587.5L300.8 1578.3L312.2 1569.5L323.3 1560.8L335 1552.2L346.3 1544.2L358 1536.2L370 1527.8L381.7 1520L393.3 1512.5L405.5 1504.7L417.5 1497.2L430 1489.7L442.2 1482.7L454.5 1475.7L467.1 1468.7L479.3 1461.5L491.9 1454.8L504.4 1447.7L516.8 1440.9L529.4 1434.4L541.9 1427.9L554.8 1421.3L567.4 1415.1L580.2 1409L592.8 1402.6L606 1396.5L618.9 1390.4L631.7 1384.7L644.6 1378.9L657.5 1373.2L670.8 1367.4L683.9 1362.2L697.3 1356.5L710.5 1351.5L723.7 1346.9L737.2 1342.2L750.7 1337.9L764.4 1333.5L778.1 1330.2L791.9 1326.9L805.9 1324L819.9 1321.9L834.1 1319.9L848.3 1320.7L862.5 1321.9L876.6 1322.7L890.6 1323.5L906.6 1324.6" stroke-dasharray="3.2 11.02"/>
</g>
<g fill="#000"><circle cx="189.73" cy="1777.3" r="7.4"/><circle cx="260.06" cy="1661.7" r="7.4"/><circle cx="297.42" cy="1538" r="7.4"/><circle cx="324.27" cy="1533.7" r="7.4"/><circle cx="345.76" cy="1514.7" r="7.4"/><circle cx="363.98" cy="1495" r="7.4"/><circle cx="379.99" cy="1470.3" r="7.4"/><circle cx="394.4" cy="1461.7" r="7.4"/><circle cx="407.61" cy="1439.5" r="7.4"/><circle cx="419.89" cy="1438.3" r="7.4"/><circle cx="431.42" cy="1436.7" r="7.4"/><circle cx="442.35" cy="1435" r="7.4"/><circle cx="452.78" cy="1434.5" r="7.4"/><circle cx="462.81" cy="1395.8" r="7.4"/><circle cx="472.49" cy="1393.8" r="7.4"/><circle cx="481.9" cy="1394.5" r="7.4"/><circle cx="491.07" cy="1391.1" r="7.4"/><circle cx="500.05" cy="1391" r="7.4"/><circle cx="508.88" cy="1389" r="7.4"/><circle cx="517.58" cy="1383" r="7.4"/><circle cx="526.2" cy="1381" r="7.4"/><circle cx="534.74" cy="1380.2" r="7.4"/><circle cx="543.25" cy="1378.9" r="7.4"/><circle cx="551.75" cy="1372.1" r="7.4"/><circle cx="560.26" cy="1370.8" r="7.4"/><circle cx="568.8" cy="1363.3" r="7.4"/><circle cx="577.42" cy="1352.5" r="7.4"/><circle cx="586.12" cy="1347.7" r="7.4"/><circle cx="594.95" cy="1347" r="7.4"/><circle cx="603.93" cy="1347" r="7.4"/><circle cx="613.1" cy="1341.6" r="7.4"/><circle cx="622.51" cy="1341.6" r="7.4"/><circle cx="632.19" cy="1336.2" r="7.4"/><circle cx="642.22" cy="1332.1" r="7.4"/><circle cx="652.65" cy="1326" r="7.4"/><circle cx="663.58" cy="1318.6" r="7.4"/><circle cx="675.11" cy="1314.5" r="7.4"/><circle cx="687.39" cy="1310.1" r="7.4"/><circle cx="700.6" cy="1305" r="7.4"/><circle cx="715.01" cy="1269.5" r="7.4"/><circle cx="731.02" cy="1253.5" r="7.4"/><circle cx="749.24" cy="1247.8" r="7.4"/><circle cx="770.73" cy="1235.5" r="7.4"/><circle cx="797.58" cy="1164.5" r="7.4"/><circle cx="834.94" cy="1161.2" r="7.4"/><circle cx="905.27" cy="1079.5" r="7.4"/></g>
<path d="M235.7 1812.5v9.17M391.6 1812.5v9.17M547.5 1812.5v9.17M703.4 1812.5v9.17M859.3 1812.5v9.17M154.2 1098.74h-9.17M154.2 1238.07h-9.17M154.2 1377.4h-9.17M154.2 1516.73h-9.17M154.2 1656.06h-9.17M154.2 1795.39h-9.17" stroke="#333333" stroke-width="3.3" fill="none"/>
<g font-size="29.33" fill="#4D4D4D">
<text transform="translate(235.7 1850.6) scale(1.02 1.1)" text-anchor="middle"><tspan dy="0.65">–</tspan><tspan dy="-0.65">2</tspan></text><text transform="translate(391.6 1850.6) scale(1.02 1.1)" text-anchor="middle"><tspan dy="0.65">–</tspan><tspan dy="-0.65">1</tspan></text><text transform="translate(547.5 1850.6) scale(1.02 1.1)" text-anchor="middle">0</text><text transform="translate(703.4 1850.6) scale(1.02 1.1)" text-anchor="middle">1</text><text transform="translate(859.3 1850.6) scale(1.02 1.1)" text-anchor="middle">2</text>
<text transform="translate(137.9 1110.14) scale(1.02 1.1)" text-anchor="end">0.10</text><text transform="translate(137.9 1249.47) scale(1.02 1.1)" text-anchor="end">0.05</text><text transform="translate(137.9 1388.8) scale(1.02 1.1)" text-anchor="end">0.00</text><text transform="translate(137.9 1528.13) scale(1.02 1.1)" text-anchor="end"><tspan dy="0.65">–</tspan><tspan dy="-0.65">0.05</tspan></text><text transform="translate(137.9 1667.46) scale(1.02 1.1)" text-anchor="end"><tspan dy="0.65">–</tspan><tspan dy="-0.65">0.10</tspan></text><text transform="translate(137.9 1806.79) scale(1.02 1.1)" text-anchor="end"><tspan dy="0.65">–</tspan><tspan dy="-0.65">0.15</tspan></text>
</g>
<g font-size="36.67" fill="#000" text-anchor="middle">
<text x="547.7" y="1892.1">Gaussian quantiles</text>
<text transform="translate(44.4 1424.45) rotate(-90) scale(0.985 1)">effects</text>
</g>
<text transform="translate(153.6 1009.3) scale(0.982 1)" font-size="44" fill="#000">s(sourcedate, 26.44)</text>
</svg>
</body></html>
